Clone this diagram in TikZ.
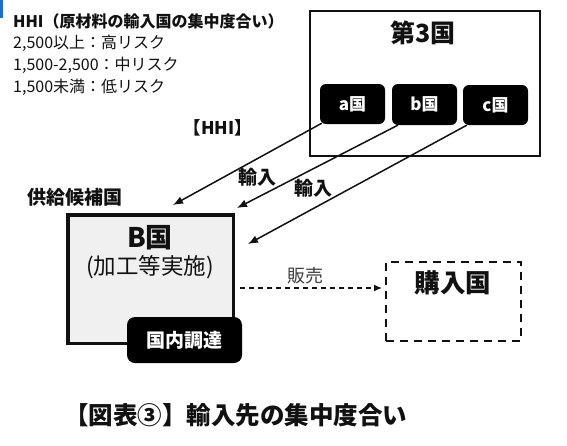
\documentclass[tikz,border=0pt]{standalone}
\usepackage{fontspec}
\setmainfont{Noto Sans CJK JP}
\usetikzlibrary{arrows.meta}
\definecolor{ink}{HTML}{111111}
\definecolor{boxgray}{HTML}{F0F0F0}
\definecolor{markblue}{HTML}{1F6FC5}
\tikzset{
  x=1pt,y=-1pt,
  txt/.style={inner sep=0pt,text=ink,anchor=center},
  btxt/.style={txt,font=\bfseries},
  darkbox/.style={fill=black,rounded corners=6pt,inner sep=0pt,text=white,font=\bfseries\fontsize{17}{17}\selectfont},
  imparrow/.style={draw=ink,line width=1.5pt,-{Latex[length=10pt,width=8pt]}},
}
\begin{document}
\begin{tikzpicture}
\useasboundingbox (0,0) rectangle (567,445);
\fill[white] (0,0) rectangle (567,445);
\fill[markblue] (0,0) rectangle (3,18);
% legend
\node[btxt,anchor=west,font=\bfseries\fontsize{16}{16}\selectfont] (l1) at (13,21) {HHI（原材料の輸入国の集中度合い）};
\node[txt,anchor=west,font=\fontsize{16}{16}\selectfont] (l2) at (13,43) {2,500以上：高リスク};
\node[txt,anchor=west,font=\fontsize{16}{16}\selectfont] (l3) at (13,65) {1,500-2,500：中リスク};
\node[txt,anchor=west,font=\fontsize{16}{16}\selectfont] (l4) at (13,87) {1,500未満：低リスク};
% third country
\node[draw=ink,line width=2pt,minimum width=230pt,minimum height=145pt,inner sep=0pt] (T) at (425,83.5) {};
\node[btxt,font=\bfseries\fontsize{25}{25}\selectfont] (Tt) at (423,33) {第3国};
\node[darkbox,minimum width=65pt,minimum height=40pt] (a) at (352.5,104) {a国};
\node[darkbox,minimum width=65pt,minimum height=41pt] (b) at (424.5,104.5) {b国};
\node[darkbox,minimum width=65pt,minimum height=40pt] (c) at (495.5,105) {c国};
% labels
\node[btxt,font=\bfseries\fontsize{17.5}{17.5}\selectfont] (hhi) at (218,128) {【HHI】};
\node[btxt,font=\bfseries\fontsize{19}{19}\selectfont] (sup) at (75,197) {供給候補国};
% B country
\node[draw=ink,fill=boxgray,line width=3.5pt,minimum width=165.5pt,minimum height=128.5pt,inner sep=0pt] (B) at (150.5,279) {};
\node[btxt,font=\bfseries\fontsize{27}{27}\selectfont] (Bt) at (150,238) {B国};
\node[txt,font=\fontsize{22.5}{22.5}\selectfont] (Bs) at (150,267) {(加工等実施)};
\node[darkbox,rounded corners=8pt,minimum width=115pt,minimum height=46pt,font=\bfseries\fontsize{19}{19}\selectfont] (dom) at (184.5,340) {国内調達};
% purchasing country
\node[draw=ink,line width=2pt,dash pattern=on 8pt off 6pt,minimum width=135pt,minimum height=79pt,inner sep=0pt] (P) at (453.5,301.5) {};
\node[btxt,font=\bfseries\fontsize{25.5}{25.5}\selectfont] (Pt) at (453,283) {購入国};
% import arrows
\coordinate (t1) at (173,205);
\coordinate (t2) at (237,208);
\coordinate (t3) at (248,244);
\draw[imparrow] ([shift={(2,-1)}]a.south west) -- (t1);
\draw[imparrow] ([shift={(6,0)}]b.south west) -- (t2);
\draw[imparrow] ([shift={(4,0)}]c.south west) -- (t3);
\node[btxt,font=\bfseries\fontsize{19}{19}\selectfont] (im1) at (257,177) {輸入};
\node[btxt,font=\bfseries\fontsize{19}{19}\selectfont] (im2) at (313,188) {輸入};
% sales
\draw[draw=ink,line width=1.3pt,dash pattern=on 5pt off 4pt,-{Latex[length=8pt,width=7pt]}] ([shift={(5,9)}]B.east) -- ([shift={(-3,-13.5)}]P.west);
\node[txt,text=black!75,font=\fontsize{18}{18}\selectfont] (sale) at (305,276) {販売};
% caption
\node[btxt,anchor=west,font=\bfseries\fontsize{24.5}{24.5}\selectfont] (cap) at (64,415) {【図表③】輸入先の集中度合い};
\end{tikzpicture}
\end{document}
